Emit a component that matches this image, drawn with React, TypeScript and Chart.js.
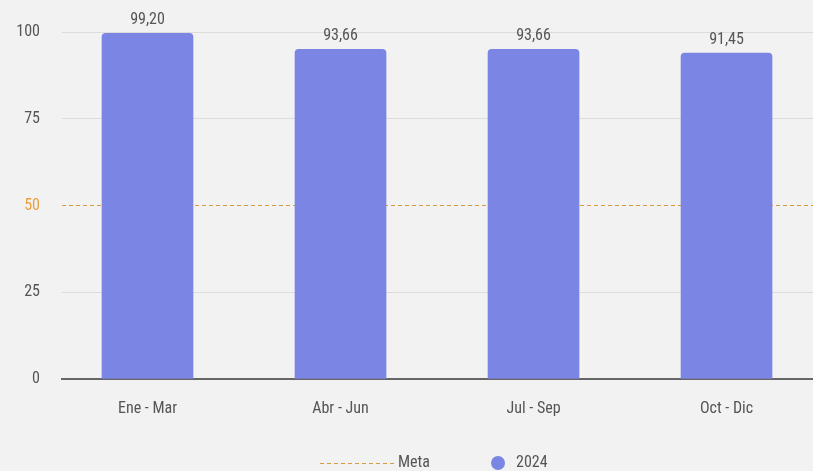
import React, { useEffect, useRef } from "react";
import { Chart, registerables } from "chart.js";

Chart.register(...registerables);

const categories = ["Ene - Mar", "Abr - Jun", "Jul - Sep", "Oct - Dic"];
// bar heights as drawn in the picture
const values2024 = [99.6, 95.0, 95.0, 93.9];
// value labels as printed in the picture
const valueLabels = ["99,20", "93,66", "93,66", "91,45"];
const metaValue = 50;
const yTicks = [0, 25, 50, 75, 100];
const xMin = -0.443;
const xMax = 3.448;

const FONT = "'Roboto Condensed', 'Liberation Sans Narrow', 'DejaVu Sans Condensed', Roboto, sans-serif";
const BAR = "#7b85e3";
const META = "#d99a3e";

const bgPlugin = {
  id: "bg",
  beforeDraw(chart: any) {
    const ctx = chart.ctx;
    ctx.save();
    ctx.fillStyle = "#f2f2f2";
    ctx.fillRect(0, 0, chart.width, chart.height);
    ctx.restore();
  },
};

const labelsPlugin = {
  id: "barLabels",
  afterDatasetsDraw(chart: any) {
    const ctx = chart.ctx;
    const meta = chart.getDatasetMeta(1);
    ctx.save();
    ctx.font = `16px ${FONT}`;
    ctx.fillStyle = "#555";
    ctx.textAlign = "center";
    ctx.textBaseline = "alphabetic";
    meta.data.forEach((el: any, i: number) => {
      ctx.fillText(valueLabels[i], el.x, el.y - 9);
    });
    ctx.restore();
  },
};

const legendPlugin = {
  id: "customLegend",
  afterDraw(chart: any) {
    const ctx = chart.ctx;
    const y = 463;
    ctx.save();
    ctx.font = `16px ${FONT}`;
    ctx.textBaseline = "middle";
    ctx.textAlign = "left";
    ctx.strokeStyle = META;
    ctx.lineWidth = 1;
    ctx.setLineDash([4, 3]);
    ctx.beginPath();
    ctx.moveTo(320, y + 0.5);
    ctx.lineTo(395, y + 0.5);
    ctx.stroke();
    ctx.setLineDash([]);
    ctx.fillStyle = "#555";
    ctx.fillText("Meta", 398, y);
    ctx.fillStyle = BAR;
    ctx.beginPath();
    ctx.arc(498, y, 7, 0, Math.PI * 2);
    ctx.fill();
    ctx.fillStyle = "#555";
    ctx.fillText("2024", 516, y);
    ctx.restore();
  },
};

export default function App() {
  const ref = useRef<HTMLCanvasElement>(null);
  useEffect(() => {
    document.body.style.margin = "0";
    document.body.style.background = "#f2f2f2";
    const chart = new Chart(ref.current!, {
      type: "bar",
      data: {
        datasets: [
          {
            type: "line",
            label: "Meta",
            data: [
              { x: xMin, y: metaValue },
              { x: xMax, y: metaValue },
            ],
            borderColor: META,
            borderWidth: 1,
            borderDash: [4, 3],
            pointRadius: 0,
            order: 2,
          } as any,
          {
            type: "bar",
            label: "2024",
            data: values2024.map((v, i) => ({ x: i, y: v })),
            backgroundColor: BAR,
            barThickness: 91,
            borderRadius: { topLeft: 4, topRight: 4, bottomLeft: 0, bottomRight: 0 },
            borderSkipped: "bottom",
            order: 1,
          } as any,
        ],
      },
      options: {
        animation: false,
        responsive: false,
        layout: { padding: { top: 32, right: 0, left: 0, bottom: 0 } },
        plugins: { legend: { display: false }, tooltip: { enabled: false } },
        scales: {
          x: {
            type: "linear",
            offset: false,
            min: xMin,
            max: xMax,
            afterBuildTicks: (s: any) => {
              s.ticks = categories.map((_, i) => ({ value: i }));
            },
            afterFit: (s: any) => {
              s.height = 92;
            },
            grid: { display: false, drawTicks: false, offset: false },
            border: { display: true, color: "#666", width: 2 },
            ticks: {
              padding: 20,
              color: "#555",
              font: { family: FONT, size: 16 },
              callback: (v: any) => categories[Math.round(v)] ?? "",
              maxRotation: 0,
              autoSkip: false,
            },
          },
          y: {
            min: 0,
            max: 100,
            afterBuildTicks: (s: any) => {
              s.ticks = yTicks.map((v) => ({ value: v }));
            },
            afterFit: (s: any) => {
              s.width = 62;
            },
            grid: {
              drawTicks: false,
              color: (c: any) => (c.tick && (c.tick.value === 50 || c.tick.value === 0) ? "rgba(0,0,0,0)" : "#dcdcdc"),
              lineWidth: 1,
            },
            border: { display: false },
            ticks: {
              padding: 22,
              color: (c: any) => (c.tick && c.tick.value === 50 ? "#e8a040" : "#555"),
              font: { family: FONT, size: 16 },
            },
          },
        },
      },
      plugins: [bgPlugin, labelsPlugin, legendPlugin],
    });
    return () => chart.destroy();
  }, []);
  return (
    <div style={{ position: "fixed", left: 0, top: 0, width: 813, height: 471, background: "#f2f2f2" }}>
      <canvas ref={ref} width={813} height={471} style={{ display: "block" }} />
    </div>
  );
}
